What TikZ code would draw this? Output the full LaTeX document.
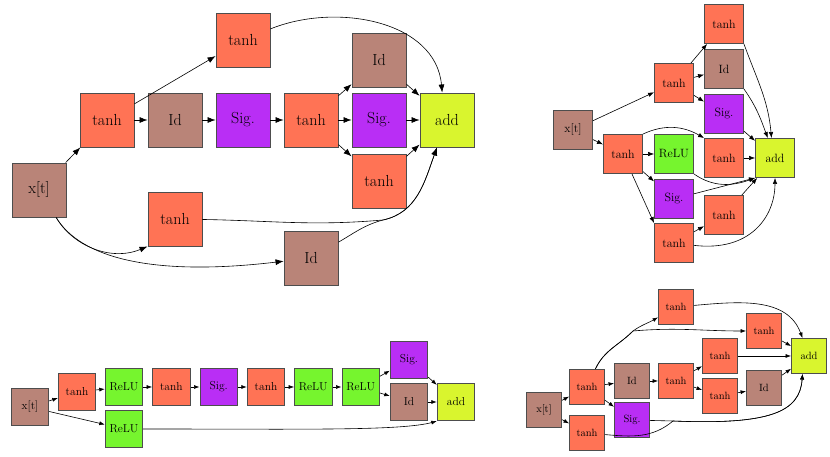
\documentclass[tikz,border=0pt]{standalone}
\usepackage{tikz}
\usetikzlibrary{arrows.meta}
\definecolor{OpTanh}{HTML}{FF7355}
\definecolor{OpId}{HTML}{B98478}
\definecolor{OpSig}{HTML}{B92EF5}
\definecolor{OpRelu}{HTML}{76F52E}
\definecolor{OpAdd}{HTML}{D9F52E}
\definecolor{OpLine}{HTML}{4D4D4D}

\begin{document}
\begin{tikzpicture}[x=1pt,y=1pt]
\tikzset{
  op/.style={draw=OpLine,line width=0.9pt,inner sep=0pt,text=black,box},
  box/.style={minimum size=54pt,font=\fontsize{16}{18}\selectfont},
  tanhop/.style={op,fill=OpTanh},
  idop/.style={op,fill=OpId},
  sigop/.style={op,fill=OpSig},
  reluop/.style={op,fill=OpRelu},
  addop/.style={op,fill=OpAdd},
  edge/.style={line width=0.6pt,-{Latex[length=8pt,width=6pt]}}
}
\useasboundingbox (0,0) rectangle (830,457);

% cell 1 (top left)
\node[idop] (aX) at (39,267) {x[t]};
\node[tanhop] (aT1) at (107,337) {tanh};
\node[idop] (aI1) at (175,337) {Id};
\node[sigop] (aS1) at (243,337) {Sig.};
\node[tanhop] (aT2) at (311,337) {tanh};
\node[idop] (aI2) at (379,397) {Id};
\node[sigop] (aS2) at (379,337) {Sig.};
\node[tanhop] (aT3) at (379,276) {tanh};
\node[addop] (aAdd) at (447,337) {add};
\node[tanhop] (aT4) at (243,417) {tanh};
\node[tanhop] (aT5) at (175,238) {tanh};
\node[idop] (aI3) at (311,199) {Id};
\coordinate (aJ) at (383,237);
\foreach \a/\b in {X/T1,T1/I1,I1/S1,S1/T2,T2/S2,S2/Add,T1/T4,T2/I2,T2/T3,I2/Add,T3/Add}
  \draw[edge] (a\a) -- (a\b);
\draw[edge] (aT4) to[out=22,in=95] (aAdd.100);
\draw[edge] (aX.-58) .. controls (80,200) and (150,180) .. (aI3);
\draw[edge] (aX.-58) .. controls (72,212) and (110,195) .. (aT5.south west);
\draw[edge] (aT5) to[out=-1,in=185] (aJ) to[out=12,in=-110] (aAdd.-110);
\draw[edge] (aI3) to[out=30,in=195] (aJ) to[out=12,in=-110] (aAdd.-110);

% cell 2 (top right)
\begin{scope}[box/.style={minimum size=39pt,font=\fontsize{12}{14}\selectfont},
  edge/.style={line width=0.6pt,-{Latex[length=6pt,width=4.5pt]}}]
\node[idop] (bX) at (573,327) {x[t]};
\node[tanhop] (bT1) at (674,374) {tanh};
\node[tanhop] (bT2) at (724,433) {tanh};
\node[idop] (bI1) at (724,388) {Id};
\node[sigop] (bS1) at (724,343) {Sig.};
\node[tanhop] (bT3) at (623,303) {tanh};
\node[reluop] (bR1) at (674,303) {ReLU};
\node[tanhop] (bT4) at (724,299) {tanh};
\node[addop] (bAdd) at (775,299) {add};
\node[sigop] (bS2) at (674,258) {Sig.};
\node[tanhop] (bT5) at (724,242) {tanh};
\node[tanhop] (bT6) at (674,214) {tanh};
\foreach \a/\b in {X/T1,X/T3,T1/T2,T1/I1,T1/S1,S1/Add,T4/Add,T3/R1,T3/S2,T6/T5,T5/Add}
  \draw[edge] (b\a) -- (b\b);
\draw[edge] (bT2.south east) to[out=-70,in=95] (bAdd.100);
\draw[edge] (bI1.south east) to[out=-55,in=110] (bAdd.110);
\draw[edge] (bT3) -- (bT6.north west);
\draw[edge] (bT3.north east) to[out=25,in=150] (bT4.north west);
\draw[edge] (bR1.south east) to[out=-35,in=200] (bAdd.south west);
\draw[edge] (bS2) -- (bAdd.south west);
\draw[edge] (bT6) .. controls (750,205) and (775,240) .. (bAdd);
\end{scope}

% cell 3 (bottom left)
\begin{scope}[box/.style={minimum size=37.5pt,font=\fontsize{11.5}{13}\selectfont},
  edge/.style={line width=0.6pt,-{Latex[length=5.5pt,width=4pt]}}]
\node[idop] (cX) at (30,50) {x[t]};
\node[tanhop] (cT1) at (77,65) {tanh};
\node[reluop] (cR1) at (124,70) {ReLU};
\node[tanhop] (cT2) at (171.3,70) {tanh};
\node[sigop] (cS1) at (218.7,70) {Sig.};
\node[tanhop] (cT3) at (266,70) {tanh};
\node[reluop] (cR2) at (313.3,70) {ReLU};
\node[reluop] (cR3) at (360.7,70) {ReLU};
\node[sigop] (cS2) at (409,97) {Sig.};
\node[idop] (cI1) at (409,55) {Id};
\node[addop] (cAdd) at (456,55) {add};
\node[reluop] (cR4) at (124,28) {ReLU};
\foreach \a/\b in {X/T1,T1/R1,R1/T2,T2/S1,S1/T3,T3/R2,R2/R3,R3/S2,R3/I1,S2/Add,I1/Add,X/R4}
  \draw[edge] (c\a) -- (c\b);
\draw[edge] (cR4) .. controls (300,28) and (400,26) .. (cAdd.south west);
\end{scope}

% cell 4 (bottom right)
\begin{scope}[box/.style={minimum size=35pt,font=\fontsize{10.5}{12}\selectfont},
  edge/.style={line width=0.6pt,-{Latex[length=5.5pt,width=4pt]}}]
\node[tanhop] (dT1) at (676,150) {tanh};
\node[tanhop] (dT2) at (764,126) {tanh};
\node[addop] (dAdd) at (809,101) {add};
\node[tanhop] (dT3) at (720,101) {tanh};
\node[tanhop] (dT4) at (587,70) {tanh};
\node[idop] (dI1) at (632,76) {Id};
\node[tanhop] (dT5) at (676,76) {tanh};
\node[tanhop] (dT6) at (720,61) {tanh};
\node[idop] (dI2) at (764,69) {Id};
\node[idop] (dX) at (544,47) {x[t]};
\node[sigop] (dS1) at (632,37) {Sig.};
\node[tanhop] (dT7) at (587,24) {tanh};
\coordinate (dJ1) at (633,126);
\coordinate (dJ2) at (673,36);
\foreach \a/\b in {X/T4,X/T7,T4/I1,T4/S1,I1/T5,T5/T3,T5/T6,T6/I2,T2/Add,T3/Add,I2/Add}
  \draw[edge] (d\a) -- (d\b);
\draw[edge] (dT4.65) to[out=65,in=225] (dJ1) to[out=35,in=210] (dT1);
\draw[edge] (dT4.65) to[out=65,in=225] (dJ1) to[out=5,in=180] (dT2);
\draw[edge] (dT1) to[out=5,in=110] (dAdd.110);
\draw[edge] (dS1) -- (dJ2) .. controls (770,32) and (800,45) .. (dAdd.-110);
\draw[edge] (dT7) to[out=-5,in=220] (dJ2) .. controls (770,32) and (800,45) .. (dAdd.-110);
\end{scope}
\end{tikzpicture}
\end{document}
